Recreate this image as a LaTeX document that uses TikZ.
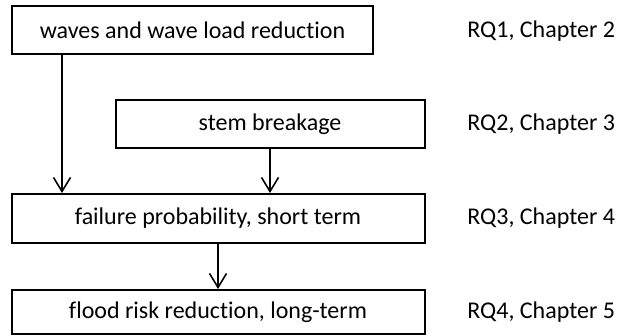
\documentclass[tikz,border=0pt]{standalone}
\usepackage{fontspec}
\setmainfont{Carlito}[Ligatures=NoCommon]
\usepackage{tikz}
\usetikzlibrary{arrows.meta, positioning, calc}

\begin{document}
\begin{tikzpicture}[
    x=0.5pt, y=-0.5pt,
    stage/.style={rectangle, draw=black, fill=white, line width=1pt,
                  inner sep=0pt, align=center, font=\fontsize{12}{14}\selectfont},
    rqlabel/.style={anchor=west, inner sep=0pt, font=\fontsize{12}{14}\selectfont},
    arrow/.style={-{Straight Barb[length=7pt, width=8.5pt, line width=0.8pt]},
                  line width=0.8pt, color=black}
]
\useasboundingbox (0,0) rectangle (619,336);
\node[stage, minimum width=180.5pt, minimum height=24pt] (waves) at (192.5, 30)
    {waves and wave load reduction};
\node[stage, minimum width=154.5pt, minimum height=24pt] (stem) at (270, 124)
    {stem breakage};
\node[stage, minimum width=206.5pt, minimum height=24.5pt] (failure) at (218, 218.5)
    {failure probability, short term};
\node[stage, minimum width=206.5pt, minimum height=22pt] (flood) at (218, 312)
    {flood risk reduction, long-term};
%% research questions on the right
\node[rqlabel] (rq1) at (467, 31) {RQ1, Chapter 2};
\node[rqlabel] (rq2) at (467, 124) {RQ2, Chapter 3};
\node[rqlabel] (rq3) at (467, 218) {RQ3, Chapter 4};
\node[rqlabel] (rq4) at (467, 312) {RQ4, Chapter 5};
%% arrows
\coordinate (drop) at ($(waves.south west)+(51,0)$);
\draw[arrow] (drop) -- (drop |- failure.north);
\draw[arrow] (stem.south) -- (stem.south |- failure.north);
\draw[arrow] (failure.south) -- (flood.north);
\end{tikzpicture}
\end{document}
